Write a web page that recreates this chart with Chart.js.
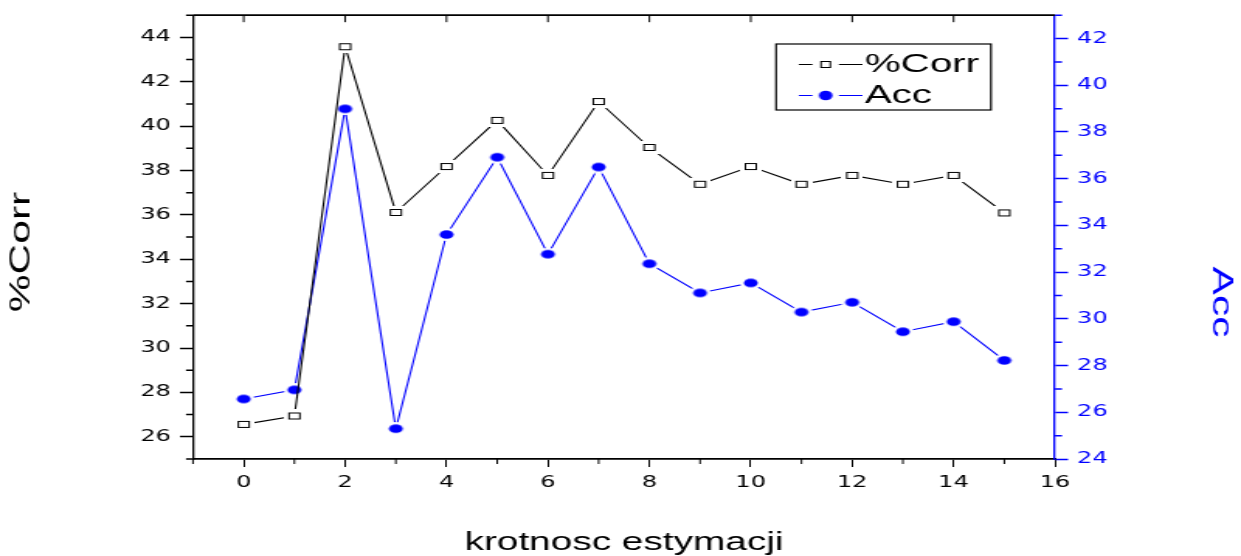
<!DOCTYPE html>
<html><head><meta charset="utf-8">
<script src="https://cdn.jsdelivr.net/npm/chart.js@4.4.1/dist/chart.umd.min.js"></script>
<style>html,body{margin:0;padding:0;background:#fff;overflow:hidden}canvas{display:block}</style>
</head><body>
<canvas id="c" width="800" height="556" style="width:1241px;height:556px"></canvas>
<script>
const categories = [0,1,2,3,4,5,6,7,8,9,10,11,12,13,14,15];
const corrValues = [26.56, 26.94, 43.58, 36.11, 38.18, 40.26, 37.78, 41.11, 39.04, 37.38, 38.18, 37.38, 37.78, 37.38, 37.78, 36.09];
const accValues  = [26.57, 26.96, 38.99, 25.30, 33.61, 36.92, 32.77, 36.50, 32.36, 31.11, 31.54, 30.29, 30.71, 29.45, 29.88, 28.22];
const xTickLabels = [0,2,4,6,8,10,12,14,16];
const leftTickLabels = [26,28,30,32,34,36,38,40,42,44];
const rightTickLabels = [24,26,28,30,32,34,36,38,40,42];
const xMinor = [-1,1,3,5,7,9,11,13,15];
const leftMinor = [25,27,29,31,33,35,37,39,41,43,45];
const rightMinor = [25,27,29,31,33,35,37,39,41,43];
const seriesNames = ['%Corr','Acc'];
const titles = {x:'krotnosc estymacji', left:'%Corr', right:'Acc'};

const S = 1241/800;      // horizontal stretch of the canvas
const K = 1.52;          // stretch of rotated titles along their length
const BLUE = '#0000ff';
const SANS = '"Liberation Sans", Arial, sans-serif';
const TICKF = '"DejaVu Sans", sans-serif';

function mk(w,h,draw){const c=document.createElement('canvas');c.width=w;c.height=h;draw(c.getContext('2d'));return c;}
const ptSquare = mk(14,13,g=>{g.fillStyle='#fff';g.fillRect(0,0,14,13);g.strokeStyle='#000';g.lineWidth=1;g.strokeRect(3.5,3.5,7,6);});
const ptCircle = mk(14,13,g=>{g.fillStyle='#fff';g.beginPath();g.ellipse(7,6.5,7,6.5,0,0,2*Math.PI);g.fill();
  g.fillStyle=BLUE;g.beginPath();g.ellipse(7,6.5,4.5,4.3,0,0,2*Math.PI);g.fill();});
const lgCorr = mk(47,11,g=>{g.strokeStyle='#000';g.lineWidth=1;g.beginPath();g.moveTo(0,5.5);g.lineTo(15,5.5);g.moveTo(32,5.5);g.lineTo(47,5.5);g.stroke();
  g.fillStyle='#fff';g.fillRect(20.5,2.5,6,6);g.strokeRect(20.5,2.5,6,6);});
const lgAcc = mk(47,11,g=>{g.strokeStyle=BLUE;g.lineWidth=1;g.beginPath();g.moveTo(0,5.5);g.lineTo(15,5.5);g.moveTo(32,5.5);g.lineTo(47,5.5);g.stroke();
  g.fillStyle=BLUE;g.beginPath();g.ellipse(23.5,5.5,4.4,4.8,0,0,2*Math.PI);g.fill();});

function drawRot(ctx,text,cx,cy,ang,color,size){
  ctx.save();ctx.translate(cx,cy);ctx.scale(1/S,K);ctx.rotate(ang);
  ctx.font=size+'px '+SANS;ctx.fillStyle=color;ctx.textAlign='center';ctx.textBaseline='middle';
  ctx.fillText(text,0,0);ctx.restore();
}

const LEG_L = 514.9, LEG_T = 46.5;
const decor = {
  id:'decor',
  afterLayout(chart){
    const lg = chart.legend; if(!lg) return;
    lg.left=LEG_L; lg.top=LEG_T; lg.width=140; lg.height=100; lg.right=LEG_L+140; lg.bottom=LEG_T+100;
  },
  afterDraw(chart){
    const ctx=chart.ctx,a=chart.chartArea,x=chart.scales.x,yl=chart.scales.y,yr=chart.scales.y2;
    ctx.save();
    ctx.strokeStyle='#000';ctx.lineWidth=1.8;
    ctx.beginPath();ctx.moveTo(a.left,a.top);ctx.lineTo(a.right,a.top);ctx.stroke();
    ctx.lineWidth=1;ctx.beginPath();
    xTickLabels.forEach(v=>{if(v>=16)return;const px=x.getPixelForValue(v);ctx.moveTo(px,a.top);ctx.lineTo(px,a.top+7);});
    xMinor.forEach(v=>{const px=x.getPixelForValue(v);ctx.moveTo(px,a.bottom);ctx.lineTo(px,a.bottom+5);});
    ctx.stroke();
    ctx.lineWidth=1.5;ctx.beginPath();
    leftMinor.forEach(v=>{const py=yl.getPixelForValue(v);ctx.moveTo(a.left-4.5,py);ctx.lineTo(a.left,py);});
    ctx.stroke();
    ctx.strokeStyle=BLUE;ctx.beginPath();
    rightMinor.forEach(v=>{const py=yr.getPixelForValue(v);ctx.moveTo(a.right,py);ctx.lineTo(a.right+4.5,py);});
    ctx.stroke();
    const lg=chart.legend;
    ctx.strokeStyle='#000';ctx.lineWidth=1.2;
    ctx.strokeRect(lg.left-14.6,lg.top-2.5,138.5,66);
    drawRot(ctx,titles.left,21/S,252,-Math.PI/2,'#000',28);
    drawRot(ctx,titles.right,1220.5/S,302,Math.PI/2,BLUE,28);
    ctx.restore();
  }
};

const tickFont = {family:TICKF,size:15.5};
new Chart(document.getElementById('c'),{
  type:'line',
  data:{datasets:[
    {label:seriesNames[0],data:categories.map((c,i)=>({x:c,y:corrValues[i]})),yAxisID:'y',borderColor:'#000',borderWidth:1.1,
     pointStyle:ptSquare,pointRadius:5,tension:0,fill:false},
    {label:seriesNames[1],data:categories.map((c,i)=>({x:c,y:accValues[i]})),yAxisID:'y2',borderColor:BLUE,borderWidth:1.1,
     pointStyle:ptCircle,pointRadius:5,tension:0,fill:false}
  ]},
  options:{
    responsive:false,devicePixelRatio:1,animation:false,events:[],
    layout:{padding:{top:14,left:0,right:0,bottom:0}},
    plugins:{
      tooltip:{enabled:false},
      legend:{display:true,position:'chartArea',align:'start',
        labels:{usePointStyle:true,pointStyleWidth:24.6,padding:5,color:'#000',font:{family:SANS,size:26},
          generateLabels:()=>[
            {text:seriesNames[0],pointStyle:lgCorr,fontColor:'#000',fillStyle:'#fff',strokeStyle:'#000',lineWidth:0,hidden:false,datasetIndex:0},
            {text:seriesNames[1],pointStyle:lgAcc,fontColor:'#000',fillStyle:BLUE,strokeStyle:BLUE,lineWidth:0,hidden:false,datasetIndex:1}
          ]}}
    },
    scales:{
      x:{type:'linear',position:'bottom',min:-1,max:16,
        afterBuildTicks:s=>{s.ticks=xTickLabels.map(v=>({value:v}));},
        afterFit:s=>{s.height=97;},
        ticks:{color:'#000',font:tickFont,padding:6.5,maxRotation:0,autoSkip:false,callback:v=>String(v)},
        grid:{drawOnChartArea:false,drawTicks:true,tickLength:8,tickWidth:1,tickColor:'#000'},
        border:{display:true,color:'#000',width:1.8},
        title:{display:true,text:titles.x,color:'#000',font:{family:SANS,size:25,lineHeight:1},padding:{top:0,bottom:0}}
      },
      y:{type:'linear',position:'left',min:25,max:45,
        afterBuildTicks:s=>{s.ticks=leftTickLabels.map(v=>({value:v}));},
        afterFit:s=>{s.width=124.4;},
        ticks:{color:'#000',font:tickFont,padding:5.9,autoSkip:false,callback:v=>String(v)},
        grid:{drawOnChartArea:false,drawTicks:true,tickLength:8.4,tickWidth:1.5,tickColor:'#000'},
        border:{display:true,color:'#000',width:1.3}
      },
      y2:{type:'linear',position:'right',min:24,max:43,
        afterBuildTicks:s=>{s.ticks=rightTickLabels.map(v=>({value:v}));},
        afterFit:s=>{s.width=119.9;},
        ticks:{color:BLUE,font:tickFont,padding:5.8,autoSkip:false,callback:v=>String(v)},
        grid:{drawOnChartArea:false,drawTicks:true,tickLength:8.4,tickWidth:1.5,tickColor:BLUE},
        border:{display:true,color:BLUE,width:1.3}
      }
    }
  },
  plugins:[decor]
});
</script>
</body></html>
